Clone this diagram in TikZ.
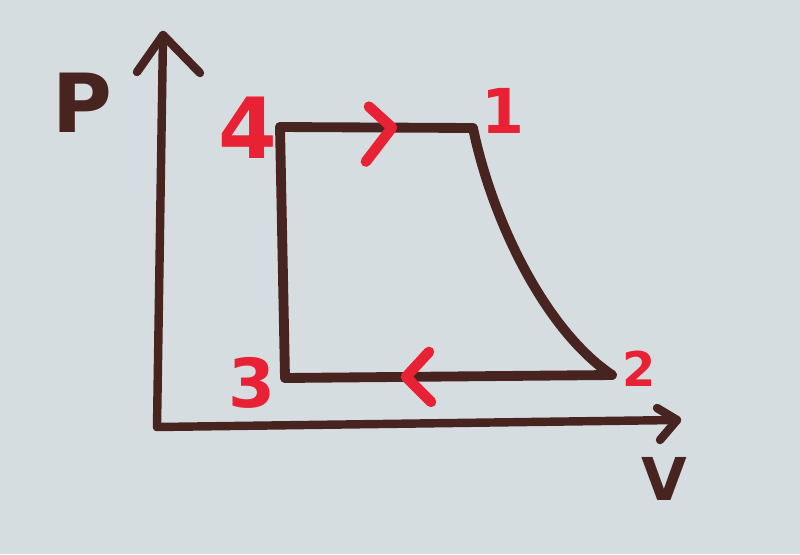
\documentclass[tikz,border=0pt]{standalone}
\usepackage{fontspec}
\setsansfont{DejaVu Sans}
\usetikzlibrary{positioning}

\definecolor{board}{RGB}{214,221,225}
\definecolor{marker}{RGB}{72,36,32}
\definecolor{redmarker}{RGB}{232,34,52}

\tikzset{
  axis/.style={marker, line width=6pt, line cap=round, line join=round},
  cyclepath/.style={marker, line width=7pt, line cap=round, line join=round},
  redmark/.style={redmarker, line width=7.5pt, line cap=round, line join=round},
  axislabel/.style={text=marker, inner sep=0pt},
  statelabel/.style={text=redmarker, inner sep=0pt},
}

\begin{document}
\begin{tikzpicture}[x=0.025cm,y=-0.025cm]
% Whiteboard
\fill[board] (0,0) rectangle (800,554);
\useasboundingbox (0,0) rectangle (800,554);

% Axes
\coordinate (origin) at (157,427);
\coordinate (ptip) at (163,35);
\coordinate (vtip) at (677,420);
\draw[axis] (origin) -- (ptip);
\draw[axis] (origin) -- (vtip);
\draw[axis] ([shift={(-26,37)}]ptip) -- (ptip) -- ++(37,38);
\draw[axis] ([shift={(-20,-12)}]vtip) -- (vtip) -- ++(-17,20);

% Axis labels
\node[axislabel, font=\fontsize{58}{58}\sffamily\bfseries] (plabel) at (82,103) {P};
\node[axislabel, font=\fontsize{42}{42}\sffamily\bfseries] (vlabel) at (664,479) {V};

% States
\coordinate (s4) at (280,127);
\coordinate (s1) at (473,128);
\coordinate (s2) at (612,375);
\coordinate (s3) at (285,378);

% Cycle
\draw[cyclepath] (s4) -- coordinate[pos=0.58] (m41) (s1);
\draw[cyclepath] (s1) .. controls (492,220) and (545,330) .. (s2);
\draw[cyclepath] (s2) -- coordinate[pos=0.63] (m23) (s3);
\draw[cyclepath] (s3) -- (s4);

% Direction marks
\draw[redmark] ([shift={(-23,-21)}]m41) -- (m41) -- ++(-26,34);
\draw[redmark] ([shift={(23,-25)}]m23) -- (m23) -- ++(25,25);

% State labels
\node[statelabel, font=\fontsize{60}{60}\sffamily\bfseries] (l4) at (248,128) {4};
\node[statelabel, font=\fontsize{44}{44}\sffamily\bfseries] (l1) at (503,111) {1};
\node[statelabel, font=\fontsize{34}{34}\sffamily\bfseries] (l2) at (639,369) {2};
\node[statelabel, font=\fontsize{48}{48}\sffamily\bfseries] (l3) at (252,383) {3};

\end{tikzpicture}
\end{document}
